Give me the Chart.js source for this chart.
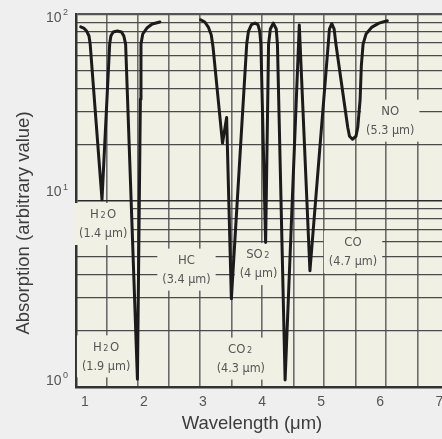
<!DOCTYPE html>
<html>
<head>
<meta charset="utf-8">
<script src="https://cdn.jsdelivr.net/npm/chart.js@4/dist/chart.umd.min.js"></script>
<style>
  html, body { margin: 0; padding: 0; background: #efefef; overflow: hidden; }
  #wrap { width: 470px; height: 439px; }
</style>
</head>
<body>
<div id="wrap"><canvas id="c" width="470" height="439"></canvas></div>
<script>
// absorption trace (null = gap between the two parts)
const wavelength = [0.93, 0.98, 1.03, 1.07, 1.09, 1.29, 1.42, 1.44, 1.48, 1.55, 1.62, 1.66, 1.69, 1.89, 1.94, 1.95, 1.98, 2.05, 2.14, 2.27,
                    2.6,
                    2.96, 3.03, 3.09, 3.14, 3.17, 3.33, 3.40, 3.48, 3.74, 3.77, 3.82, 3.88, 3.93, 3.96, 3.98, 4.06, 4.11, 4.14, 4.19, 4.24, 4.26,
                    4.39, 4.63, 4.81, 5.12, 5.14, 5.18, 5.22, 5.25, 5.45, 5.48, 5.53, 5.59, 5.62, 5.66, 5.68, 5.71, 5.76, 5.86, 5.98, 6.12];
const absorption = [85.4, 84.1, 81.0, 76.2, 69.0, 10.1, 69.0, 76.2, 80.0, 81.0, 80.0, 76.2, 69.0, 1.10, 34.9, 69.0, 78.1, 84.1, 88.4, 90.6,
                    null,
                    93.2, 90.6, 85.1, 77.1, 66.5, 20.3, 27.9, 2.97, 69.0, 81.0, 87.8, 89.4, 87.8, 81.0, 69.0, 5.95, 69.0, 83.1, 89.4, 83.1, 69.0,
                    1.09, 87.3, 4.20, 69.0, 83.1, 88.9, 83.1, 69.0, 24.7, 22.1, 21.3, 22.1, 24.7, 34.9, 52.5, 69.0, 78.1, 85.1, 89.4, 92.0];

const xTicks = [1, 2, 3, 4, 5, 6, 7];
const yTicks = [1, 10, 100];
const yTickExp = ['0', '1', '2'];

// background grid of the paper (not tied to the tick labels)
const xGrid = [1.37, 1.9, 2.42, 2.95, 3.48, 4.0, 4.53, 5.05, 5.58, 6.1, 6.63, 7.15];
const yGrid = [2, 3, 4, 5, 6, 7, 8, 9, 20, 30, 40, 50, 60, 70, 80, 90];

// gas labels
const gasNames = ['H₂O', 'H₂O', 'HC', 'SO₂', 'CO₂', 'CO', 'NO'];
const gasBands = ['(1.4 μm)', '(1.9 μm)', '(3.4 μm)', '(4 μm)', '(4.3 μm)', '(4.7 μm)', '(5.3 μm)'];
const gasLabelX = [1.31, 1.36, 2.72, 3.94, 3.64, 5.54, 6.17];
const gasLabelY = [7.48, 1.46, 4.26, 4.56, 1.42, 5.29, 26.8];

const NARROW = '"Liberation Sans Narrow", "DejaVu Sans Condensed", "Liberation Sans", sans-serif';
const SANS = '"Liberation Sans", Arial, sans-serif';
const PAPER = '#f1f0e5';
const INK = '#555';

const trace = wavelength.map((w, i) => ({ x: w, y: absorption[i] }));

const paperBg = {
  id: 'paperBg',
  beforeDraw(chart) {
    const { ctx, chartArea: a } = chart;
    ctx.save();
    ctx.fillStyle = '#efefef';
    ctx.fillRect(0, 0, chart.width, chart.height);
    ctx.fillStyle = PAPER;
    ctx.fillRect(a.left, a.top, a.right - a.left, a.bottom - a.top);
    ctx.restore();
  }
};

function drawName(ctx, name, cx, cy) {
  const parts = name.split('₂');
  const big = '13px ' + NARROW, small = '9px ' + NARROW;
  ctx.font = big;
  const w0 = ctx.measureText(parts[0]).width;
  const w2 = parts.length > 1 ? ctx.measureText(parts[1]).width : 0;
  ctx.font = small;
  const ws = parts.length > 1 ? ctx.measureText('2').width + 3 : 0;
  let x = cx - (w0 + ws + w2) / 2;
  ctx.textAlign = 'left';
  ctx.font = big;
  ctx.fillText(parts[0], x, cy);
  if (parts.length > 1) {
    x += w0 + 1.5;
    ctx.font = small;
    ctx.fillText('2', x, cy + 1);
    x += ws - 1.5;
    ctx.font = big;
    ctx.fillText(parts[1], x, cy);
  }
}

const gasLabels = {
  id: 'gasLabels',
  beforeDatasetsDraw(chart) {
    const { ctx, scales: { x, y } } = chart;
    ctx.save();
    ctx.textBaseline = 'middle';
    gasNames.forEach((name, i) => {
      const cx = x.getPixelForValue(gasLabelX[i]);
      const cy = y.getPixelForValue(gasLabelY[i]);
      ctx.font = '12.5px ' + NARROW;
      const w = Math.max(ctx.measureText(gasBands[i]).width, 30) + 10;
      ctx.fillStyle = PAPER;
      ctx.fillRect(cx - w / 2, cy - 21, w, 42);
      ctx.fillStyle = INK;
      drawName(ctx, name, cx, cy - 9);
      ctx.font = '12.5px ' + NARROW;
      ctx.textAlign = 'center';
      ctx.fillText(gasBands[i], cx, cy + 10);
    });
    ctx.restore();
  }
};

// y labels as 10 with a small raised exponent
const yLabels = {
  id: 'yLabels',
  afterDraw(chart) {
    const { ctx, scales: { y } } = chart;
    const nudge = [-6, -8, 4];
    ctx.save();
    ctx.fillStyle = INK;
    ctx.textBaseline = 'middle';
    ctx.textAlign = 'left';
    yTicks.forEach((v, i) => {
      const py = y.getPixelForValue(v) + nudge[i];
      ctx.font = '14px ' + SANS;
      ctx.fillText('10', 46, py);
      const w = ctx.measureText('10').width;
      ctx.font = '9px ' + SANS;
      ctx.fillText(yTickExp[i], 46 + w + 1.5, py - 5);
    });
    ctx.restore();
  }
};

const axisTitles = {
  id: 'axisTitles',
  afterDraw(chart) {
    const { ctx, chartArea: a } = chart;
    ctx.save();
    ctx.fillStyle = '#3c3c3c';
    ctx.font = '18.5px ' + SANS;
    ctx.textAlign = 'center';
    ctx.textBaseline = 'middle';
    ctx.fillText('Wavelength (μm)', a.left + 176, 424);
    ctx.translate(24, 223);
    ctx.rotate(-Math.PI / 2);
    ctx.fillText('Absorption (arbitrary value)', 0, 0);
    ctx.restore();
  }
};

new Chart(document.getElementById('c'), {
  type: 'line',
  data: {
    datasets: [{
      data: trace,
      borderColor: '#1b1b1b',
      borderWidth: 3,
      pointRadius: 0,
      tension: 0,
      spanGaps: false,
      borderJoinStyle: 'round',
      borderCapStyle: 'round'
    }]
  },
  options: {
    responsive: false,
    animation: false,
    events: [],
    layout: { padding: { top: 14, left: 0, right: 0, bottom: 0 } },
    plugins: { legend: { display: false }, tooltip: { enabled: false } },
    scales: {
      x: {
        type: 'linear', min: 0.85, max: 7.52, position: 'bottom',
        afterBuildTicks: s => { s.ticks = xTicks.map(v => ({ value: v })); },
        afterFit: s => { s.height = 52; },
        grid: { color: 'rgba(0,0,0,0)', drawTicks: false },
        border: { color: '#333', width: 2.5 },
        ticks: { padding: 7, color: INK, autoSkip: false, maxRotation: 0,
                 font: { family: SANS, size: 14 }, callback: v => String(v) }
      },
      xg: {
        type: 'linear', min: 0.85, max: 7.52, position: 'top',
        afterBuildTicks: s => { s.ticks = xGrid.map(v => ({ value: v })); },
        afterFit: s => { s.height = 0; },
        grid: { color: '#6b6b6b', lineWidth: 1.6, drawTicks: false },
        border: { display: false },
        ticks: { display: false }
      },
      y: {
        type: 'logarithmic', min: 1, max: 100, position: 'left',
        afterBuildTicks: s => { s.ticks = yTicks.map(v => ({ value: v })); },
        afterFit: s => { s.width = 76; },
        grid: { color: c => c.tick && c.tick.value === 100 ? '#555' : '#2a2a2a',
                lineWidth: c => c.tick && c.tick.value === 100 ? 2.2 : 1.5, drawTicks: false },
        border: { color: '#333', width: 2.5 },
        ticks: { display: false }
      },
      yg: {
        type: 'logarithmic', min: 1, max: 100, position: 'right',
        afterBuildTicks: s => { s.ticks = yGrid.map(v => ({ value: v })); },
        afterFit: s => { s.width = 0; },
        grid: { color: '#4a4a4a', lineWidth: 1.2, drawTicks: false },
        border: { display: false },
        ticks: { display: false }
      }
    }
  },
  plugins: [paperBg, gasLabels, yLabels, axisTitles]
});
</script>
</body>
</html>
